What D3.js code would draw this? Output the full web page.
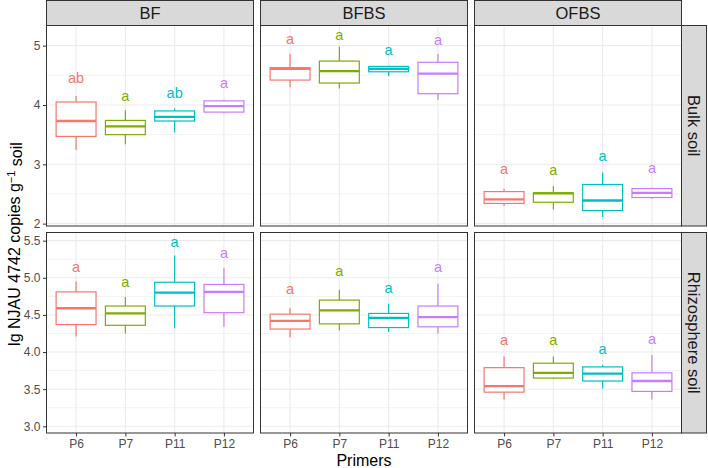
<!DOCTYPE html>
<html><head><meta charset="utf-8">
<script src="https://cdn.jsdelivr.net/npm/d3@7"></script>
<style>body{margin:0;background:#fff} svg{display:block;font-family:"Liberation Sans",Arial,Helvetica,sans-serif}</style>
</head><body><svg id="c" width="708" height="468"></svg>
<script>
const primers = ["P6","P7","P11","P12"];
const sites = ["BF","BFBS","OFBS"];
const soils = ["Bulk soil","Rhizosphere soil"];
const colors = ["#F8766D","#7CAE00","#00BFC4","#C77CFF"];

// [lower whisker, Q1, median, Q3, upper whisker] for P6, P7, P11, P12
const bulkBF   = [[3.24,3.47,3.73,4.05,4.15],[3.34,3.50,3.64,3.74,3.91],[3.54,3.73,3.80,3.90,3.94],[3.86,3.88,3.98,4.07,4.09]];
const bulkBFBS = [[4.30,4.42,4.61,4.63,4.86],[4.28,4.37,4.57,4.74,4.98],[4.49,4.56,4.61,4.65,4.66],[4.09,4.19,4.53,4.72,4.86]];
const bulkOFBS = [[2.30,2.34,2.41,2.54,2.59],[2.24,2.36,2.51,2.52,2.63],[2.11,2.22,2.39,2.66,2.86],[2.42,2.44,2.52,2.59,2.61]];
const rhizoBF   = [[4.21,4.37,4.59,4.81,4.95],[4.25,4.36,4.52,4.62,4.74],[4.32,4.62,4.80,4.94,5.30],[4.34,4.53,4.81,4.91,5.13]];
const rhizoBFBS = [[4.20,4.31,4.42,4.51,4.59],[4.29,4.38,4.56,4.70,4.84],[4.27,4.33,4.46,4.52,4.65],[4.25,4.34,4.47,4.62,4.92]];
const rhizoOFBS = [[3.36,3.46,3.54,3.79,3.94],[3.64,3.65,3.72,3.85,3.94],[3.51,3.61,3.71,3.80,3.83],[3.36,3.47,3.61,3.72,3.96]];

// significance letters and their vertical positions
const lettersBulkBF = ["ab","a","ab","a"];     const labelYBulkBF = [4.46,4.16,4.20,4.37];
const lettersBulkBFBS = ["a","a","a","a"];     const labelYBulkBFBS = [5.11,5.18,4.93,5.10];
const lettersBulkOFBS = ["a","a","a","a"];     const labelYBulkOFBS = [2.92,2.90,3.15,2.94];
const lettersRhizoBF = ["a","a","a","a"];      const labelYRhizoBF = [5.15,4.94,5.49,5.34];
const lettersRhizoBFBS = ["a","a","a","a"];    const labelYRhizoBFBS = [4.85,5.10,4.87,5.15];
const lettersRhizoOFBS = ["a","a","a","a"];    const labelYRhizoOFBS = [4.16,4.17,4.05,4.18];

const bulkTicks = [2,3,4,5];
const bulkMinor = [2.5,3.5,4.5];
const rhizoTicks = [3.0,3.5,4.0,4.5,5.0,5.5];
const rhizoMinor = [3.25,3.75,4.25,4.75,5.25];
const bulkDomain = [1.96,5.34];
const rhizoDomain = [2.91,5.61];

const panels = [
  [bulkBF, bulkBFBS, bulkOFBS],
  [rhizoBF, rhizoBFBS, rhizoOFBS]
];
const letters = [[lettersBulkBF,lettersBulkBFBS,lettersBulkOFBS],[lettersRhizoBF,lettersRhizoBFBS,lettersRhizoOFBS]];
const labelYs = [[labelYBulkBF,labelYBulkBFBS,labelYBulkOFBS],[labelYRhizoBF,labelYRhizoBFBS,labelYRhizoOFBS]];

const svg = d3.select("#c");
const panelX = [46.5, 260.5, 474.5];
const panelW = 207;
const rowTop = [25.5, 232.5];
const panelH = 200.5;
const stripH = 25;
const stripW = 25;

const rows = [
  {domain: bulkDomain, ticks: bulkTicks, minor: bulkMinor, fmt: d3.format("d")},
  {domain: rhizoDomain, ticks: rhizoTicks, minor: rhizoMinor, fmt: d3.format(".1f")}
];

// strips top
sites.forEach((s,j)=>{
  const g = svg.append("g");
  g.append("rect").attr("x",panelX[j]).attr("y",0.5).attr("width",panelW).attr("height",stripH)
    .attr("fill","#D9D9D9").attr("stroke","#333333").attr("stroke-width",1);
  g.append("text").attr("x",panelX[j]+panelW/2).attr("y",13).attr("dy","0.36em")
    .attr("text-anchor","middle").attr("font-size",16.5).attr("fill","#1A1A1A").text(s);
});

rows.forEach((r,i)=>{
  const y = d3.scaleLinear().domain(r.domain).range([rowTop[i]+panelH, rowTop[i]]);
  // right strip
  const sx = panelX[2]+panelW;
  svg.append("rect").attr("x",sx).attr("y",rowTop[i]).attr("width",stripW).attr("height",panelH)
    .attr("fill","#D9D9D9").attr("stroke","#333333").attr("stroke-width",1);
  svg.append("text").attr("transform",`translate(${sx+stripW/2},${rowTop[i]+panelH/2}) rotate(90)`)
    .attr("dy","0.36em").attr("text-anchor","middle").attr("font-size",16.5).attr("fill","#1A1A1A").text(soils[i]);

  // y axis on left
  const yAxis = d3.axisLeft(y).tickValues(r.ticks).tickFormat(r.fmt).tickSize(3.5).tickPadding(2.5);
  const ga = svg.append("g").attr("transform",`translate(${panelX[0]},0)`).call(yAxis);
  ga.select(".domain").remove();
  ga.selectAll(".tick line").attr("stroke","#333333");
  ga.selectAll(".tick text").attr("fill","#4D4D4D").attr("font-size",12).attr("font-family",null);

  sites.forEach((s,j)=>{
    const xp = d3.scalePoint().domain(primers).range([panelX[j]+panelW*0.6/4.2, panelX[j]+panelW*3.6/4.2]);
    const step = panelW/4.2;
    const bw = step*0.81;
    const g = svg.append("g");
    g.append("rect").attr("x",panelX[j]).attr("y",rowTop[i]).attr("width",panelW).attr("height",panelH).attr("fill","#fff");
    g.selectAll(".minor").data(r.minor).join("line")
      .attr("x1",panelX[j]).attr("x2",panelX[j]+panelW).attr("y1",d=>y(d)).attr("y2",d=>y(d))
      .attr("stroke","#EBEBEB").attr("stroke-width",0.6);
    g.selectAll(".major").data(r.ticks).join("line")
      .attr("x1",panelX[j]).attr("x2",panelX[j]+panelW).attr("y1",d=>y(d)).attr("y2",d=>y(d))
      .attr("stroke","#EBEBEB").attr("stroke-width",1.1);
    g.selectAll(".vmajor").data(primers).join("line")
      .attr("x1",d=>xp(d)).attr("x2",d=>xp(d)).attr("y1",rowTop[i]).attr("y2",rowTop[i]+panelH)
      .attr("stroke","#EBEBEB").attr("stroke-width",1.1);

    const data = panels[i][j];
    data.forEach((b,k)=>{
      const cx = xp(primers[k]);
      const c = colors[k];
      g.append("line").attr("x1",cx).attr("x2",cx).attr("y1",y(b[0])).attr("y2",y(b[1])).attr("stroke",c).attr("stroke-width",1.2);
      g.append("line").attr("x1",cx).attr("x2",cx).attr("y1",y(b[3])).attr("y2",y(b[4])).attr("stroke",c).attr("stroke-width",1.2);
      g.append("rect").attr("x",cx-bw/2).attr("y",y(b[3])).attr("width",bw).attr("height",y(b[1])-y(b[3]))
        .attr("fill","#fff").attr("stroke",c).attr("stroke-width",1.2);
      g.append("line").attr("x1",cx-bw/2).attr("x2",cx+bw/2).attr("y1",y(b[2])).attr("y2",y(b[2])).attr("stroke",c).attr("stroke-width",2.3);
      g.append("text").attr("x",cx).attr("y",y(labelYs[i][j][k])).attr("dy","0.36em")
        .attr("text-anchor","middle").attr("font-size",14.5).attr("fill",c).text(letters[i][j][k]);
    });
    g.append("rect").attr("x",panelX[j]).attr("y",rowTop[i]).attr("width",panelW).attr("height",panelH)
      .attr("fill","none").attr("stroke","#333333").attr("stroke-width",1);

    if (i===1) {
      const xa = d3.axisBottom(xp).tickSize(3.5).tickPadding(2.5);
      const gx = svg.append("g").attr("transform",`translate(0,${rowTop[i]+panelH})`).call(xa);
      gx.select(".domain").remove();
      gx.selectAll(".tick line").attr("stroke","#333333");
      gx.selectAll(".tick text").attr("fill","#4D4D4D").attr("font-size",12).attr("font-family",null);
    }
  });
});

// axis titles
svg.append("text").attr("x",panelX[1]+panelW/2).attr("y",466)
  .attr("text-anchor","middle").attr("font-size",16).attr("fill","#000").text("Primers");
const yt = svg.append("text").attr("transform",`translate(14,244) rotate(-90)`)
  .attr("dy","0.36em").attr("text-anchor","middle").attr("font-size",16).attr("fill","#000");
yt.append("tspan").text("lg NJAU 4742 copies g");
yt.append("tspan").attr("dy","-0.45em").attr("font-size",11).text("−1");
yt.append("tspan").attr("dy","0.45em").text(" soil");
</script></body></html>
